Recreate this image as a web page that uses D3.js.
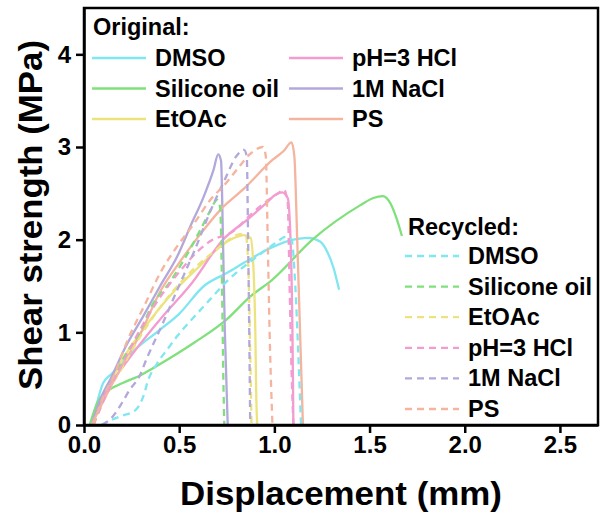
<!DOCTYPE html>
<html>
<head>
<meta charset="utf-8">
<script src="https://cdn.jsdelivr.net/npm/d3@7"></script>
<style>
  html, body { margin: 0; padding: 0; background: #fff; }
  svg { display: block; }
  text { font-family: "Liberation Sans", Arial, Helvetica, sans-serif; font-weight: bold; fill: #000; }
</style>
</head>
<body>
<svg id="chart" width="600" height="518"></svg>
<script>
// Lap-shear curves: [displacement (mm), shear strength (MPa)]
const labels = ["DMSO", "Silicone oil", "EtOAc", "pH=3 HCl", "1M NaCl", "PS"];
const colors = ["#80e6f0", "#80e07c", "#ece37e", "#f29ccf", "#b3a8db", "#f5b49e"];

const dmsoOriginal = [[0.04,0],[0.07,0.25],[0.1,0.45],[0.15,0.56],[0.25,0.78],[0.4,1.03],[0.5,1.2],[0.63,1.5],[0.75,1.64],[0.84,1.75],[0.95,1.88],[1.08,1.99],[1.18,2.02],[1.24,1.98],[1.28,1.86],[1.31,1.7],[1.34,1.46]];
const siliconeOriginal = [[0.03,0],[0.07,0.24],[0.12,0.36],[0.2,0.45],[0.3,0.54],[0.36,0.61],[0.45,0.72],[0.58,0.89],[0.75,1.14],[0.87,1.38],[0.99,1.57],[1.2,2.0],[1.45,2.37],[1.52,2.45],[1.57,2.47],[1.61,2.39],[1.64,2.24],[1.67,2.04]];
const etoacOriginal = [[0.04,0],[0.1,0.3],[0.2,0.7],[0.3,1.0],[0.45,1.39],[0.6,1.7],[0.72,1.93],[0.79,2.02],[0.84,2.05],[0.875,2.02],[0.89,1.7],[0.9,1.0],[0.905,0.3],[0.91,0]];
const hclOriginal = [[0.04,0],[0.1,0.3],[0.22,0.67],[0.4,1.14],[0.57,1.54],[0.73,2.0],[0.86,2.22],[0.95,2.38],[1.01,2.49],[1.04,2.51],[1.07,2.45],[1.085,2.0],[1.095,1.0],[1.1,0]];
const naclOriginal = [[0.04,0],[0.09,0.3],[0.14,0.5],[0.22,0.85],[0.31,1.17],[0.4,1.5],[0.49,1.82],[0.56,2.15],[0.63,2.47],[0.68,2.75],[0.705,2.92],[0.72,2.85],[0.73,2.0],[0.74,1.0],[0.755,0]];
const psOriginal = [[0.04,0],[0.1,0.25],[0.15,0.45],[0.3,1.0],[0.4,1.44],[0.5,1.75],[0.6,2.03],[0.72,2.33],[0.84,2.55],[0.99,2.86],[1.05,2.96],[1.09,3.05],[1.105,2.9],[1.12,2.0],[1.135,1.0],[1.15,0]];

const dmsoRecycled = [[0.09,0],[0.14,0.05],[0.2,0.1],[0.27,0.16],[0.31,0.3],[0.34,0.5],[0.38,0.65],[0.45,0.85],[0.49,0.96],[0.58,1.17],[0.66,1.35],[0.75,1.55],[0.84,1.71],[0.93,1.85],[1.01,1.97],[1.06,2.03],[1.09,2.0],[1.11,1.5],[1.125,0.8],[1.14,0]];
const siliconeRecycled = [[0.05,0],[0.1,0.3],[0.15,0.5],[0.23,0.8],[0.28,0.95],[0.36,1.3],[0.45,1.54],[0.53,1.8],[0.61,2.1],[0.66,2.3],[0.7,2.43],[0.715,2.35],[0.725,1.5],[0.732,0.5],[0.737,0]];
const etoacRecycled = [[0.05,0],[0.1,0.25],[0.2,0.62],[0.3,0.97],[0.4,1.27],[0.5,1.52],[0.6,1.73],[0.7,1.9],[0.76,2.0],[0.82,2.06],[0.85,2.05],[0.865,1.6],[0.873,0.8],[0.88,0]];
const hclRecycled = [[0.05,0],[0.1,0.25],[0.2,0.65],[0.3,1.05],[0.4,1.38],[0.45,1.52],[0.52,1.7],[0.6,1.88],[0.66,1.98],[0.79,2.1],[0.87,2.26],[0.95,2.4],[1.02,2.5],[1.05,2.54],[1.07,2.4],[1.08,1.5],[1.09,0.6],[1.1,0]];
const naclRecycled = [[0.095,0],[0.15,0.09],[0.2,0.24],[0.24,0.38],[0.29,0.52],[0.33,0.72],[0.41,1.08],[0.49,1.46],[0.58,1.88],[0.66,2.29],[0.74,2.65],[0.8,2.9],[0.84,2.97],[0.855,2.9],[0.862,2.0],[0.868,1.0],[0.873,0]];
const psRecycled = [[0.05,0],[0.1,0.3],[0.15,0.5],[0.23,0.92],[0.32,1.3],[0.4,1.64],[0.49,1.93],[0.58,2.18],[0.66,2.42],[0.75,2.62],[0.82,2.8],[0.87,2.92],[0.92,2.99],[0.94,3.0],[0.955,2.9],[0.965,2.0],[0.975,1.0],[0.99,0]];

const originalSeries = [dmsoOriginal, siliconeOriginal, etoacOriginal, hclOriginal, naclOriginal, psOriginal];
const recycledSeries = [dmsoRecycled, siliconeRecycled, etoacRecycled, hclRecycled, naclRecycled, psRecycled];

const xTicks = [0, 0.5, 1.0, 1.5, 2.0, 2.5];
const yTicks = [0, 1, 2, 3, 4];

const svg = d3.select("#chart");
const plot = { left: 84, right: 598, top: 8, bottom: 425 };
const dash = "7,5";

const x = d3.scaleLinear().domain([0, 2.7]).range([plot.left, plot.right]);
const y = d3.scaleLinear().domain([0, 4.5]).range([plot.bottom, plot.top]);

const line = d3.line()
  .x(d => x(d[0]))
  .y(d => y(d[1]))
  .curve(d3.curveMonotoneX);

// curves
const curves = svg.append("g").attr("fill", "none").attr("stroke-width", 2.3)
  .attr("stroke-linejoin", "round");

originalSeries.forEach((s, i) => {
  curves.append("path").attr("d", line(s)).attr("stroke", colors[i]);
});
recycledSeries.forEach((s, i) => {
  curves.append("path").attr("d", line(s)).attr("stroke", colors[i])
    .attr("stroke-dasharray", dash);
});

// frame
svg.append("rect")
  .attr("x", plot.left).attr("y", plot.top)
  .attr("width", plot.right - plot.left).attr("height", plot.bottom - plot.top)
  .attr("fill", "none").attr("stroke", "#000").attr("stroke-width", 2.5);

// axes
const xAxis = svg.append("g")
  .attr("transform", `translate(0,${plot.bottom})`)
  .call(d3.axisBottom(x).tickValues(xTicks).tickFormat(d3.format(".1f"))
    .tickSize(8).tickSizeOuter(0).tickPadding(3));
const yAxis = svg.append("g")
  .attr("transform", `translate(${plot.left},0)`)
  .call(d3.axisLeft(y).tickValues(yTicks).tickFormat(d3.format("d"))
    .tickSize(8).tickSizeOuter(0).tickPadding(5));

[xAxis, yAxis].forEach(g => {
  g.select(".domain").attr("stroke-width", 2.5);
  g.selectAll(".tick line").attr("stroke-width", 2.5);
  g.selectAll(".tick text")
    .attr("font-family", "Liberation Sans, Arial, sans-serif")
    .attr("font-weight", "bold").attr("font-size", 24).attr("fill", "#000");
});

// axis titles
svg.append("text")
  .attr("x", 341).attr("y", 505)
  .attr("text-anchor", "middle").attr("font-size", 34)
  .attr("textLength", 322).attr("lengthAdjust", "spacingAndGlyphs")
  .text("Displacement (mm)");

svg.append("text")
  .attr("transform", "translate(42,215) rotate(-90)")
  .attr("text-anchor", "middle").attr("font-size", 34)
  .attr("textLength", 350).attr("lengthAdjust", "spacingAndGlyphs")
  .text("Shear strength (MPa)");

// legends
const legendFont = 23.5;
function legendEntry(g, lx, ly, i, dashed) {
  g.append("line")
    .attr("x1", lx).attr("x2", lx + 54).attr("y1", ly).attr("y2", ly)
    .attr("stroke", colors[i]).attr("stroke-width", 2.3)
    .attr("stroke-dasharray", dashed ? dash : null);
  g.append("text")
    .attr("x", lx + 63).attr("y", ly + 8)
    .attr("font-size", legendFont)
    .text(labels[i]);
}

const legOrig = svg.append("g");
legOrig.append("text").attr("x", 93).attr("y", 35).attr("font-size", legendFont).text("Original:");
labels.forEach((_, i) => {
  const col = Math.floor(i / 3), row = i % 3;
  legendEntry(legOrig, col === 0 ? 92 : 289, 58 + row * 30.5, i, false);
});

const legRec = svg.append("g");
legRec.append("text").attr("x", 408).attr("y", 235).attr("font-size", legendFont).text("Recycled:");
labels.forEach((_, i) => {
  legendEntry(legRec, 405, 256 + i * 30.6, i, true);
});
</script>
</body>
</html>
